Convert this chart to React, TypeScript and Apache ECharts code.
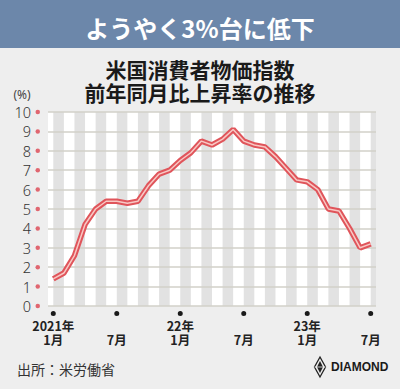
import React, { useEffect, useRef } from 'react';
import * as echarts from 'echarts';

// Months Jan 2021 – Jul 2023
const months = [
  '2021-01', '2021-02', '2021-03', '2021-04', '2021-05', '2021-06',
  '2021-07', '2021-08', '2021-09', '2021-10', '2021-11', '2021-12',
  '2022-01', '2022-02', '2022-03', '2022-04', '2022-05', '2022-06',
  '2022-07', '2022-08', '2022-09', '2022-10', '2022-11', '2022-12',
  '2023-01', '2023-02', '2023-03', '2023-04', '2023-05', '2023-06',
  '2023-07',
];
// US CPI, year-over-year change (%)
const cpiYoY = [
  1.4, 1.7, 2.6, 4.2, 5.0, 5.4, 5.4, 5.3, 5.4, 6.2, 6.8, 7.0,
  7.5, 7.9, 8.5, 8.3, 8.6, 9.1, 8.5, 8.3, 8.2, 7.7, 7.1, 6.5,
  6.4, 6.0, 5.0, 4.9, 4.0, 3.0, 3.2,
];
const yMin = 0;
const yMax = 10;
const yStep = 1;
const xTickStep = 6;
const xTickYear = ['2021年', '', '22年', '', '23年', ''];
const xTickMonth = ['1月', '7月', '1月', '7月', '1月', '7月'];
const stripeStarts = months.map((_, i) => i).filter((i) => i % 2 === 0);

const JP = '"Noto Sans CJK JP", "Noto Sans", sans-serif';

export default function App() {
  const ref = useRef<HTMLDivElement>(null);
  useEffect(() => {
    document.body.style.margin = '0';
    const chart = echarts.init(ref.current!, null, { renderer: 'svg' });
    chart.setOption({
      animation: false,
      backgroundColor: '#eeeeee',
      grid: {
        left: 48, right: 24, top: 112, bottom: 83,
        show: true, backgroundColor: '#ffffff', borderWidth: 0, z: -2,
      },
      xAxis: {
        type: 'category',
        data: months,
        boundaryGap: true,
        axisLine: { show: false },
        axisTick: { show: false },
        splitLine: { show: false },
        axisLabel: {
          interval: (i: number) => i % xTickStep === 0,
          margin: 3,
          formatter: (_v: string, i: number) => {
            const k = Math.round(i / xTickStep);
            const top = xTickYear[k];
            return '{dot| }\n' + (top ? `{b|${top}}` : '{e| }') + `\n{b|${xTickMonth[k]}}`;
          },
          rich: {
            dot: { width: 5, height: 5, borderRadius: 2.5, backgroundColor: '#1a1a1a', lineHeight: 9, fontSize: 1, verticalAlign: 'middle' },
            b: { fontFamily: JP, fontWeight: 'bold', fontSize: 12.5, color: '#222', lineHeight: 14, align: 'center', verticalAlign: 'middle' },
            e: { fontSize: 12.5, lineHeight: 14, width: 1 },
          },
        },
      },
      yAxis: {
        type: 'value',
        min: yMin,
        max: yMax,
        interval: yStep,
        axisLine: { show: false },
        axisTick: { show: false },
        splitLine: { show: true, lineStyle: { color: '#d2d0c9', width: 1.5 } },
        axisLabel: {
          margin: 8,
          formatter: (v: number) => `{n|${v}}{s| }{d| }`,
          rich: {
            n: { fontFamily: '"Noto Sans", sans-serif', fontSize: 14.5, color: '#333', verticalAlign: 'middle', fontWeight: 300 },
            s: { width: 4.5, fontSize: 1 },
            d: { width: 4.5, height: 4.5, borderRadius: 2.25, backgroundColor: '#e06670', fontSize: 1, verticalAlign: 'middle' },
          },
        },
      },
      graphic: [
        { type: 'rect', shape: { x: 0, y: 0, width: 400, height: 48 }, style: { fill: '#6c87aa' } },
        {
          type: 'text', x: 200, y: 27,
          style: { text: 'ようやく3%台に低下', fill: '#ffffff', fontFamily: JP, fontWeight: 'bold', fontSize: 24, align: 'center', verticalAlign: 'middle' },
        },
        {
          type: 'text', x: 200, y: 69,
          style: { text: '米国消費者物価指数', fill: '#1a1a1a', fontFamily: JP, fontWeight: 'bold', fontSize: 21, align: 'center', verticalAlign: 'middle' },
        },
        {
          type: 'text', x: 200, y: 91.5,
          style: { text: '前年同月比上昇率の推移', fill: '#1a1a1a', fontFamily: JP, fontWeight: 'bold', fontSize: 21, align: 'center', verticalAlign: 'middle' },
        },
        {
          type: 'text', x: 22, y: 94,
          style: { text: '(%)', fill: '#444', fontFamily: '"Noto Sans", sans-serif', fontSize: 12, align: 'center', verticalAlign: 'middle' },
        },
        {
          type: 'text', x: 17, y: 369,
          style: { text: '出所：米労働省', fill: '#333', fontFamily: JP, fontSize: 14, align: 'left', verticalAlign: 'middle' },
        },
        {
          type: 'polygon',
          shape: { points: [[320, 357], [325.5, 367], [320, 377], [314.5, 367]] },
          style: { fill: 'none', stroke: '#222', lineWidth: 1.3 },
        },
        {
          type: 'polygon',
          shape: { points: [[320, 361], [323, 367], [320, 373], [317, 367]] },
          style: { fill: '#222' },
        },
        {
          type: 'line',
          shape: { x1: 314.5, y1: 367, x2: 325.5, y2: 367 },
          style: { stroke: '#eeeeee', lineWidth: 0.8 },
        },
        {
          type: 'text', x: 331, y: 367,
          style: { text: 'DIAMOND', fill: '#1a1a1a', fontFamily: '"Liberation Sans", Arial, sans-serif', fontWeight: 'bold', fontSize: 12, align: 'left', verticalAlign: 'middle' },
        },
      ],
      series: [
        {
          type: 'custom',
          z: -1,
          silent: true,
          data: stripeStarts.map((i) => [i, 0]),
          encode: { x: 0, y: 1 },
          renderItem: (params: any, api: any) => {
            const i = api.value(0);
            const cs = params.coordSys;
            const x0 = api.coord([i, 0])[0];
            const x1 = i + 1 < months.length ? api.coord([i + 1, 0])[0] : cs.x + cs.width;
            return {
              type: 'rect',
              shape: { x: x0, y: cs.y, width: x1 - x0, height: cs.height },
              style: { fill: '#e2e2e2' },
            };
          },
        },
        {
          type: 'line',
          data: cpiYoY,
          symbol: 'none',
          lineStyle: { color: '#e0555b', width: 5.5 },
          z: 3,
        },
        {
          type: 'line',
          data: cpiYoY,
          symbol: 'none',
          lineStyle: { color: '#f8c8c4', width: 1.5 },
          z: 4,
        },
      ],
    });
    return () => chart.dispose();
  }, []);
  return <div ref={ref} style={{ width: 400, height: 389 }} />;
}
